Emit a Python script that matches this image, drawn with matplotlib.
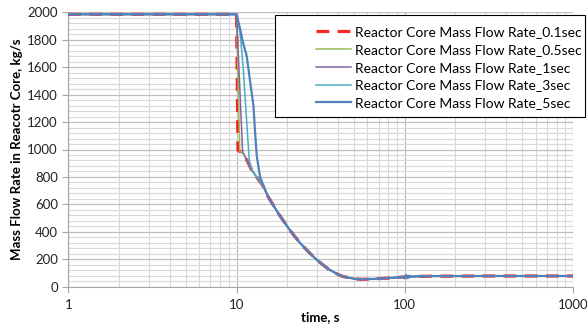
import matplotlib
matplotlib.use("Agg")
import matplotlib.pyplot as plt
from matplotlib.patches import Rectangle
from matplotlib.ticker import LogLocator, MultipleLocator, NullFormatter, FixedLocator, FixedFormatter

plt.rcParams['font.family'] = ['Lato', 'DejaVu Sans']

# Shared tail of all series (time s, flow kg/s)
tail_t = [11.0, 11.6, 12.3, 13.5, 14.2, 15.4, 17.7, 20.4, 22, 24, 27, 30, 35, 40, 43, 50, 55, 60, 70, 80, 90, 100, 120, 150, 200, 300, 500, 700, 1000]
tail_v = [970, 915, 850, 780, 745, 656, 535, 425, 372, 315, 250, 195, 130, 90, 74, 58, 54, 55, 59, 63, 67, 72, 75, 77, 77, 78, 78, 78, 78]

t_01 = [1, 10, 10.1, 10.2, 10.5]
v_01 = [1985, 1985, 1500, 996, 985]
t_05 = [1, 10, 10.45, 10.6]
v_05 = [1985, 1985, 990, 980]
t_1 = [1, 10, 10.85, 10.95]
v_1 = [1985, 1985, 1000, 972]
t_3 = [1, 10, 10.5, 10.95, 11.5, 11.9, 12.4]
v_3 = [1985, 1985, 1850, 1600, 1200, 920, 850]
t_5 = [1, 10, 10.5, 10.95, 11.5, 12.0, 12.6, 12.9, 13.2, 13.8, 14.2]
v_5 = [1985, 1985, 1880, 1775, 1680, 1510, 1320, 1120, 950, 802, 760]
# 5sec wiggle near 100 s
t_5w = [90, 97, 100, 102, 104, 106, 110]
v_5w = [68, 72, 60, 85, 62, 80, 74]

labels = ["Reactor Core Mass Flow Rate_0.1sec", "Reactor Core Mass Flow Rate_0.5sec",
          "Reactor Core Mass Flow Rate_1sec", "Reactor Core Mass Flow Rate_3sec",
          "Reactor Core Mass Flow Rate_5sec"]
colors = ["#FF0000", "#9BBB59", "#8064A2", "#4BACC6", "#4F81BD"]

def build(t0, v0, start_after):
    t = list(t0) + [x for x in tail_t if x > start_after]
    v = list(v0) + [y for x, y in zip(tail_t, tail_v) if x > start_after]
    return t, v

W, H = 587, 329
fig = plt.figure(figsize=(W/100, H/100), dpi=100)
ax = fig.add_axes([68.3/W, 1-286.7/H, (573-68.3)/W, (286.7-12.3)/H])

series = [(t_01, v_01), (t_05, v_05), (t_1, v_1), (t_3, v_3), (t_5, v_5)]
handles = []
for i, ((tt, vv), c, lab) in enumerate(zip(series, colors, labels)):
    t, v = build(tt, vv, tt[-1])
    if i == 4:
        tw = [x for x in t if x < t_5w[0]] + t_5w + [x for x in t if x > t_5w[-1]]
        vw = [y for x, y in zip(t, v) if x < t_5w[0]] + v_5w + [y for x, y in zip(t, v) if x > t_5w[-1]]
        t, v = tw, vw
    if i == 0:
        h, = ax.plot(t, v, color=c, lw=2.3, dashes=(4, 2.6), alpha=0.85, label=lab, zorder=3)
    else:
        lw = 1.6 if i == 4 else 1.1
        h, = ax.plot(t, v, color=c, lw=lw, label=lab, zorder=3+i)
    handles.append(h)

ax.set_xscale('log')
ax.set_xlim(1, 1000)
ax.set_ylim(0, 2000)
ax.xaxis.set_major_locator(FixedLocator([1, 10, 100, 1000]))
ax.xaxis.set_major_formatter(FixedFormatter(["1", "10", "100", "1000"]))
ax.xaxis.set_minor_locator(LogLocator(base=10, subs=range(2, 10)))
ax.xaxis.set_minor_formatter(NullFormatter())
ax.yaxis.set_major_locator(MultipleLocator(200))
ax.yaxis.set_minor_locator(MultipleLocator(40))
ax.grid(True, which='major', color='#BFBFBF', lw=0.9)
ax.grid(True, which='minor', color='#D9D9D9', lw=0.8)
ax.set_axisbelow(True)
for s in ['top', 'right']:
    ax.spines[s].set_visible(False)
for s in ['left', 'bottom']:
    ax.spines[s].set_color('#A6A6A6')
ax.tick_params(which='major', length=4, color='#A6A6A6', labelsize=9.5, labelcolor='#222222')
ax.tick_params(which='minor', length=0)
ax.tick_params(axis='x', pad=5)

ax.set_xlabel("time, s", fontsize=9.5, fontweight='bold', labelpad=0)
ax.set_ylabel("Mass Flow Rate in Reacotr Core, kg/s", fontsize=9.5, fontweight='bold', labelpad=3)

rect = Rectangle((275/W, 1-117/H), (585-275)/W, (117-15)/H, transform=fig.transFigure,
                 facecolor='white', edgecolor='black', lw=0.8, zorder=10)
fig.patches.append(rect)
leg = fig.legend(handles=handles, labels=labels, loc='upper left',
                 bbox_to_anchor=(309/W, 1-19/H), frameon=False, fontsize=10,
                 handlelength=2.5, handletextpad=0.3, labelspacing=0.42,
                 borderpad=0.0)
leg.set_zorder(11)

fig.savefig("out.png", dpi=100)
